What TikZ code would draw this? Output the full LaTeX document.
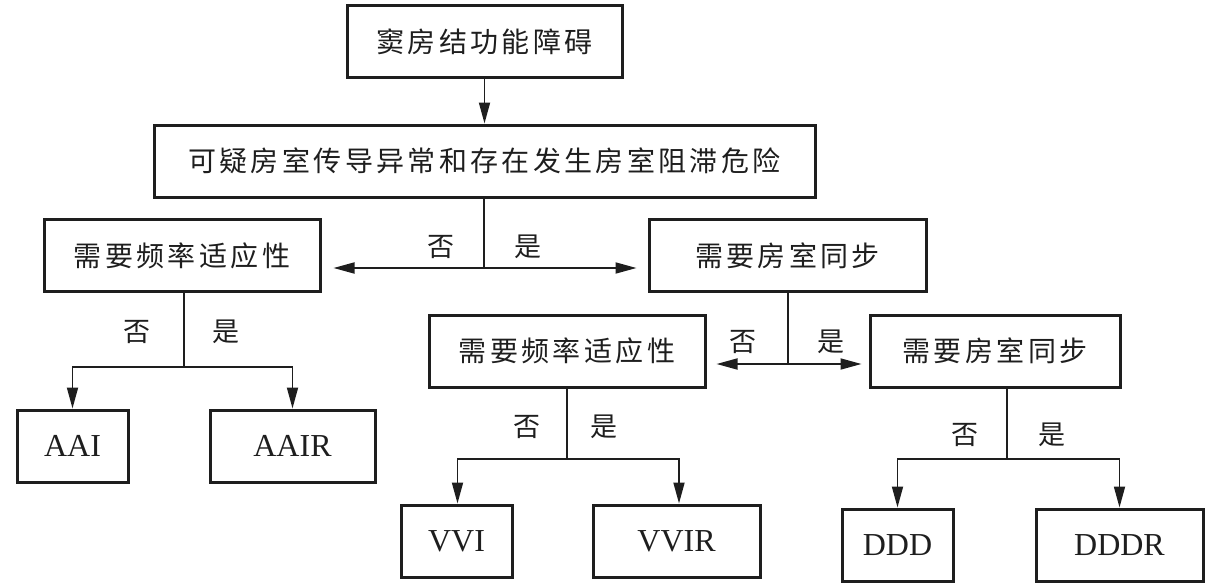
\documentclass[tikz,border=0pt]{standalone}
\usepackage{fontspec}
\setmainfont{Liberation Serif}
\newfontfamily\cjk[LetterSpace=12]{Noto Sans CJK SC}
\usetikzlibrary{arrows.meta}
\definecolor{ink}{HTML}{1E1E1E}
\begin{document}
\begin{tikzpicture}[x=1pt,y=-1pt,
  box/.style={draw=ink, line width=3pt, minimum height=72pt, inner sep=0pt,
    text=ink, font=\cjk\fontsize{28}{30}\selectfont},
  codebox/.style={box, font=\fontsize{32}{36}\selectfont},
  lab/.style={inner sep=0pt, text=ink, font=\cjk\fontsize{27}{30}\selectfont},
  conn/.style={line width=1.8pt, draw=ink},
  arr/.style={conn, -{Triangle[length=21pt,width=11pt]}}]
\useasboundingbox (0,0) rectangle (1216,586);

% boxes
\node[box, minimum width=275pt] (b1) at (484.5,42) {窦房结功能障碍};
\node[box, minimum width=661pt] (b2) at (484.5,161) {可疑房室传导异常和存在发生房室阻滞危险};
\node[box, minimum width=276pt] (b3) at (182,255.5) {需要频率适应性};
\node[box, minimum width=277pt] (b4) at (787.5,255.5) {需要房室同步};
\node[box, minimum width=276pt] (b5) at (567,351) {需要频率适应性};
\node[box, minimum width=250pt] (b6) at (995,351) {需要房室同步};

\node[codebox, minimum width=111pt] (a1) at (72.5,446) {AAI};
\node[codebox, minimum width=165pt] (a2) at (292.5,446) {AAIR};
\node[codebox, minimum width=111pt] (v1) at (456.5,541) {VVI};
\node[codebox, minimum width=167pt] (v2) at (676.5,541) {VVIR};
\node[codebox, minimum width=111pt] (d1) at (897.5,545) {DDD};
\node[codebox, minimum width=167pt] (d2) at (1119.5,545) {DDDR};

% connectors
\draw[arr] (b1.south) -- (b2.north);

\coordinate (j1) at (484,268);
\draw[conn] (b2.south -| j1) -- (j1);
\draw[arr] (j1) -- ([xshift=12pt]j1 -| b3.east);
\draw[arr] (j1) -- ([xshift=-11pt]j1 -| b4.west);

\coordinate (j2) at (184,367);
\draw[conn] (b3.south -| j2) -- (j2);
\draw[arr] (j2) -| (a1.north);
\draw[arr] (j2) -| (a2.north);

\coordinate (j3) at (788,364);
\draw[conn] (b4.south -| j3) -- (j3);
\draw[arr] (j3) -- ([xshift=10pt]j3 -| b5.east);
\draw[arr] (j3) -- ([xshift=-7pt]j3 -| b6.west);

\coordinate (j4) at (567,459);
\draw[conn] (b5.south -| j4) -- (j4);
\draw[arr] (j4) -| ([xshift=1pt]v1.north);
\draw[arr] (j4) -| ([xshift=2.5pt]v2.north);

\coordinate (j5) at (1007,459);
\draw[conn] (b6.south -| j5) -- (j5);
\draw[arr] (j5) -| (d1.north);
\draw[arr] (j5) -| (d2.north);

% labels
\node[lab] (n1) at (441,247) {否};
\node[lab] (y1) at (528,247) {是};
\node[lab] (n2) at (137,332) {否};
\node[lab] (y2) at (226,332) {是};
\node[lab] (n3) at (743,342) {否};
\node[lab] (y3) at (831,342) {是};
\node[lab] (n4) at (527,427) {否};
\node[lab] (y4) at (604,427) {是};
\node[lab] (n5) at (965,435) {否};
\node[lab] (y5) at (1052,435) {是};
\end{tikzpicture}
\end{document}
